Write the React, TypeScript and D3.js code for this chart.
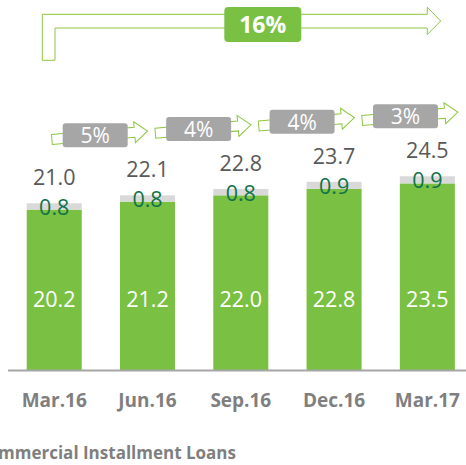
import { useEffect, useRef } from "react";
import * as d3 from "d3";

const categories = ["Mar.16", "Jun.16", "Sep.16", "Dec.16", "Mar.17"];
const baseValues = [20.2, 21.2, 22.0, 22.8, 23.5];
const topValues = [0.8, 0.8, 0.8, 0.9, 0.9];
const totals = ["21.0", "22.1", "22.8", "23.7", "24.5"];
const quarterGrowth = ["5%", "4%", "4%", "3%"];
const yearGrowth = "16%";
const caption = "Commercial Installment Loans";

const W = 466;
const H = 465;
const GREEN = "#7ac143";
const FONT = "'Open Sans', sans-serif";

export default function App() {
  const svgRef = useRef<SVGSVGElement | null>(null);

  useEffect(() => {
    if (!svgRef.current) return;
    const svg = d3.select(svgRef.current);
    svg.selectAll("*").remove();

    const baseline = 370;
    const x = d3
      .scaleBand()
      .domain(categories)
      .range([7.6, 474])
      .paddingInner(0.41)
      .paddingOuter(0.205);
    const y = d3.scaleLinear().domain([0, 46.6]).range([baseline, 0]);

    const rows = categories.map((c, i) => ({
      c,
      base: baseValues[i],
      top: topValues[i],
      total: totals[i],
    }));

    // stacked bars
    const g = svg.append("g");
    g.selectAll("rect.base")
      .data(rows)
      .join("rect")
      .attr("class", "base")
      .attr("x", (d) => x(d.c)!)
      .attr("width", x.bandwidth())
      .attr("y", (d) => y(d.base))
      .attr("height", (d) => y(0) - y(d.base))
      .attr("fill", GREEN);

    g.selectAll("rect.top")
      .data(rows)
      .join("rect")
      .attr("class", "top")
      .attr("x", (d) => x(d.c)!)
      .attr("width", x.bandwidth())
      .attr("y", (d) => y(d.base + d.top))
      .attr("height", (d) => y(d.base) - y(d.base + d.top))
      .attr("fill", "#d9d9d9");

    const cx = (d: { c: string }) => x(d.c)! + x.bandwidth() / 2;

    g.selectAll("text.baseLbl")
      .data(rows)
      .join("text")
      .attr("x", cx)
      .attr("y", baseline - 63)
      .attr("text-anchor", "middle")
      .attr("font-family", FONT)
      .attr("font-size", 21.5)
      .attr("fill", "#fff")
      .text((d) => d.base.toFixed(1));

    g.selectAll("text.topLbl")
      .data(rows)
      .join("text")
      .attr("x", cx)
      .attr("y", (d) => y(d.base + d.top) + 12)
      .attr("text-anchor", "middle")
      .attr("font-family", FONT)
      .attr("font-size", 21.5)
      .attr("fill", "#0e7348")
      .text((d) => d.top.toFixed(1));

    g.selectAll("text.totalLbl")
      .data(rows)
      .join("text")
      .attr("x", cx)
      .attr("y", (d) => y(d.base + d.top) - 18)
      .attr("text-anchor", "middle")
      .attr("font-family", FONT)
      .attr("font-size", 21.5)
      .attr("fill", "#595959")
      .text((d) => d.total);

    // axis
    const axis = svg
      .append("g")
      .attr("transform", `translate(0,${baseline})`)
      .call(d3.axisBottom(x).tickSize(0).tickPadding(24));
    axis.select(".domain").attr("stroke", "#a6a6a6").attr("stroke-width", 2);
    axis
      .selectAll("text")
      .attr("font-family", FONT)
      .attr("font-size", 19)
      .attr("font-weight", 700)
      .attr("fill", "#7f7f7f");

    // quarter growth arrows
    const ax = d3
      .scalePoint()
      .domain(quarterGrowth.map((_, i) => String(i)))
      .range([99.7, 410]);
    quarterGrowth.forEach((v, i) => {
      const acx = ax(String(i))!;
      const acy = y(baseValues[i + 1] + topValues[i + 1]) - 60;
      const ag = svg
        .append("g")
        .attr("transform", `translate(${acx},${acy}) rotate(-5)`);
      ag.append("path")
        .attr(
          "d",
          "M-48,-5 L35,-5 L35,-10.5 L48,0 L35,10.5 L35,5 L-48,5 Z"
        )
        .attr("fill", "#fff")
        .attr("stroke", "#8cc63f")
        .attr("stroke-width", 1);
      const bg = svg
        .append("g")
        .attr("transform", `translate(${acx - 4.5},${acy})`);
      bg.append("rect")
        .attr("x", -32.5)
        .attr("y", -12)
        .attr("width", 65)
        .attr("height", 24)
        .attr("rx", 3)
        .attr("fill", "#a6a6a6");
      bg.append("text")
        .attr("y", 8)
        .attr("text-anchor", "middle")
        .attr("font-family", FONT)
        .attr("font-size", 21)
        .attr("fill", "#fff")
        .text(v);
    });

    // yearly growth bent arrow
    svg
      .append("path")
      .attr(
        "d",
        "M42.3,60.3 L42.3,14.3 L427.3,14.3 L427.3,7.3 L440.7,21 L427.3,34.5 L427.3,28 L55,28 L55,60.3 Z"
      )
      .attr("fill", "#fff")
      .attr("stroke", "#8cc63f")
      .attr("stroke-width", 1);
    svg
      .append("rect")
      .attr("x", 224.3)
      .attr("y", 7)
      .attr("width", 77)
      .attr("height", 35)
      .attr("rx", 4)
      .attr("fill", GREEN);
    svg
      .append("text")
      .attr("x", 262.7)
      .attr("y", 33)
      .attr("text-anchor", "middle")
      .attr("font-family", FONT)
      .attr("font-size", 23)
      .attr("font-weight", 700)
      .attr("fill", "#fff")
      .text(yearGrowth);

    svg
      .append("text")
      .attr("x", 236)
      .attr("y", 459)
      .attr("text-anchor", "end")
      .attr("font-family", FONT)
      .attr("font-size", 17)
      .attr("font-weight", 700)
      .attr("fill", "#7f7f7f")
      .text(caption);
  }, []);

  return (
    <svg
      ref={svgRef}
      width={W}
      height={H}
      style={{ position: "absolute", left: 0, top: 0, background: "#fff" }}
    />
  );
}
